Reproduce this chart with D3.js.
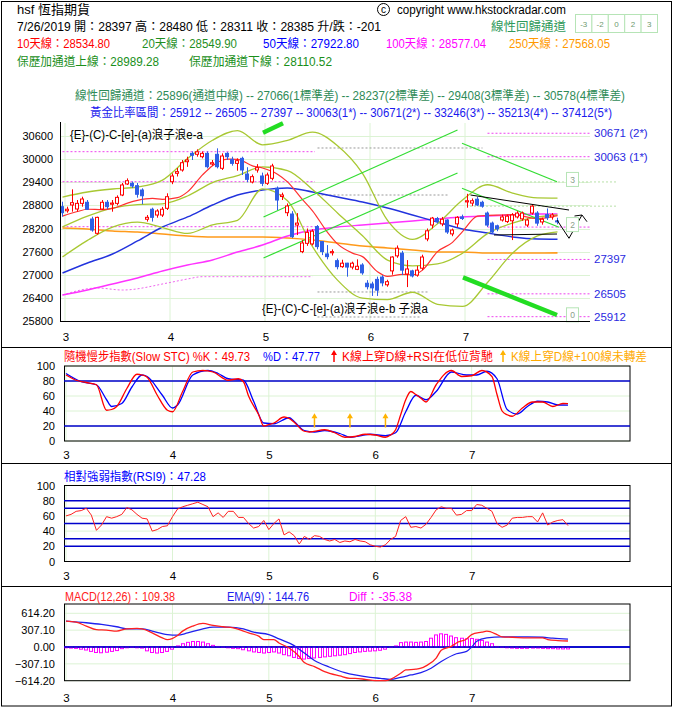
<!DOCTYPE html>
<html><head><meta charset="utf-8"><title>hsf</title>
<script src="https://cdn.jsdelivr.net/npm/d3@7/dist/d3.min.js"></script>
<style>
body{margin:0;background:#fff}
svg{display:block}
text{font-family:"Liberation Sans","Noto Sans CJK TC",sans-serif}
</style></head><body>
<svg id="chart" width="677" height="717"></svg>
<script>
// ================= DATA =================
const monthLabels = ["3","4","5","6","7"];
const monthIdx = [0,21,40,61,80];
const priceTicks = [25800,26400,27000,27600,28200,28800,29400,30000,30600];

const openP = [28766,28660,28810,28706,28852,28880,28446,28075,28706,28880,
28830,28852,29069,29355,29373,29311,29199,28440,28700,28550,
28550,28724,29414,29632,29718,29933,30150,30125,30063,30150,
29873,30125,29762,30150,29995,29890,30020,29614,29407,29718,
29562,29373,29502,29243,29030,28610,28576,28290,27600,27815,
27800,28250,27860,27540,27570,27365,27210,27300,27200,27140,
27253,26780,26760,26880,26940,26740,27100,27490,27560,27020,
27100,26990,27170,27930,28290,28460,28320,28420,28060,28320,
28500,28890,28860,28960,28880,28600,28340,28270,28420,28380,
28400,28500,28450,28290,28600,28600,28370,28560,28500,28397];
const highP = [28895,28766,29216,28939,29025,28939,28506,28506,28939,28939,
28939,29060,29380,29500,29420,29380,29243,28550,28740,28700,
28760,29113,29630,29770,29977,30063,30200,30254,30200,30200,
29977,30280,30150,30180,30063,30020,30063,29790,29600,29870,
29650,29650,29880,29290,29130,28850,28650,28600,27900,28200,
28180,28290,27870,27770,27660,27420,27390,27310,27340,27400,
27300,26860,26820,26950,26990,26870,27480,27760,27620,27380,
27130,27230,27520,28200,28500,28500,28500,28440,28200,28520,
28560,29100,28980,29020,28920,28640,28380,28300,28560,28560,
28600,28650,28640,28460,28820,28650,28480,28720,28600,28480];
const lowP = [28506,28610,28636,28636,28766,28680,28117,28040,28680,28700,
28636,28800,29040,29330,29250,29000,28828,28380,28380,28480,
28500,28680,29350,29550,29675,29800,29977,30063,30020,29760,
29830,29760,29718,29977,29830,29700,29588,29400,29370,29650,
29300,29330,29450,28680,28939,28520,27950,28030,27560,27750,
27760,27660,27510,27400,27500,27140,27180,26950,27140,27120,
27000,26620,26450,26450,26700,26690,27000,27440,26990,26680,
26930,26950,27120,27870,28200,28330,28260,28060,28000,28240,
28420,28740,28780,28780,28740,28240,28060,28130,28380,28340,
27900,28460,28400,28240,28560,28270,28300,28420,28430,28311];
const closeP = [28610,28700,28870,28852,28965,28698,28161,28489,28880,28766,
28860,29008,29329,29440,29303,29088,29050,28490,28490,28654,
28700,29025,29562,29675,29907,29977,30100,30190,30150,29804,
29907,29804,30081,30063,29890,29960,29718,29476,29545,29778,
29373,29588,29822,28939,29069,28784,27988,28340,27824,28100,
28130,27730,27600,27470,27600,27210,27300,27200,27300,27220,
27050,26690,26660,26600,26790,26820,27460,27690,27120,27150,
26970,27120,27460,28140,28470,28380,28440,28110,28160,28490,
28460,28920,28920,28810,28780,28290,28110,28190,28500,28520,
28550,28600,28600,28420,28780,28340,28440,28480,28550,28385];

// sampled indicator lines (index positions + values)
const lineIdx = [0,5,10,15,20,25,30,35,40,45,50,55,60,65,70,75,80,85,90,95,99];
const ma20   = [28240,28520,28730,28820,28840,29043,29392,29574,29799,29702,29214,28604,28013,27381,27232,27280,27559,28067,28341,28500,28550];
const bbUpper= [29017,29147,29225,29277,29456,30013,30490,30738,30371,30486,30698,30348,29631,28409,27918,28326,28939,29335,29120,28994,28989];
const bbLower= [27463,27893,28235,28363,28224,28073,28294,28410,29227,28918,27730,26860,26395,26353,26546,26234,26179,26799,27560,28006,28110];
const ma50   = [27045,27305,27538,27876,28239,28499,28810,29069,29199,29251,29147,29017,28888,28732,28550,28369,28187,28083,27980,27928,27923];
const ma100  = [26475,26604,26760,26916,27097,27253,27383,27590,27772,28005,28161,28239,28291,28343,28395,28447,28498,28524,28550,28576,28577];
const ma250  = [28213,28187,28135,28109,28057,28005,27979,27979,27979,27953,27902,27824,27746,27694,27642,27590,27590,27564,27564,27564,27568];
const ma10Idx = [0,3,5,8,10,13,15,18,20,23,25,28,30,33,35,38,40,43,45,48,50,53,55,58,60,63,65,68,70,72,75,78,80,83,85,88,90,95,99];
const ma10    = [28520,28640,28700,28690,28720,28860,28930,28980,28955,29000,29150,29590,29830,30000,29995,29825,29770,29610,29410,28950,28660,28100,27800,27560,27470,27080,26960,27010,27000,27120,27600,27840,28120,28520,28540,28550,28560,28460,28535];

// level lines
const leftLevels = [30193,29414,28247];
const goldenLevels = [30671,30063,28237,27397,26505,25912];
const goldenLabels = ["30671 (2*)","30063 (1*)","","27397","26505","25912"];
const regLevels = [29408,28780];
const oldLevels = [30289,29069,26553,25904];
const oldLevelEnd = [84,77,73,71.5];
const dotIdx = [0,7,12,21,25,28,50];
const dotVal = [26475,26656,26604,26786,26890,26950,26950];
const regBoxVal = [29408,28237,25896];
const regBoxLab = ["3","2","0"];

// stochastic
const kIdx = [0,2,4,6,8,9,10,12,14,15,16,18,20,21,23,25,27,29,32,34,35,36,38,39,40,41,43,44,45,47,48,51,53,55,57,59,61,63,64,65,66,67,68,69,70,71,73,76,78,80,82,84,85,86,87,88,90,92,94,96,98,99];
const kVal = [88,81,78,75,41,42,46,70,89,88,85,61,41,39,66,92,94,92,81,83,79,60,35,20,22,24,32,30,25,13,12,15,11,5,6,9,8,5,8,15,35,55,66,62,57,52,75,94,86,87,94,86,62,40,35,33,44,52,52,46,50,49.73];
const dIdx = [0,3,6,8,9,11,13,15,16,19,21,22,25,28,30,32,35,37,39,41,44,45,47,49,51,54,56,58,60,63,65,67,69,71,73,76,79,81,83,85,87,89,91,93,95,97,99];
const dVal = [90,79,75,55,46,50,72,88,86,61,44,48,88,94,90,83,81,53,24,23,31,26,14,12,14,10,5,7,9,7,11,39,61,55,66,92,88,88,93,83,42,36,46,53,52,48,47.77];
const stochArrowIdx = [49,56,63];

// RSI(9)
const rsi = [60,62,66,67,70,61,41,48,59,57, 59,62,71,68,62,57,56,40,42,46,
47,59,69,72,74,76,78,75,72,59, 64,58,66,66,58,58,50,44,46,54,
42,50,56,35,39,34,23,33,29,34, 33,29,27,29,25,27,26,29,27,26,
22,20,19,22,29,33,54,59,45,46, 44,49,58,68,72,70,70,61,62,67,
67,75,74,70,66,50,45,48,57,58, 58,59,59,52,64,48,52,54,55,47.28];

// MACD
const macdIdx = [0,2,4,6,8,10,12,14,15,17,19,20,22,23,25,27,29,31,33,35,36,38,39,41,42,44,46,47,49,51,54,56,57,59,61,63,64,66,67,69,70,71,73,74,76,77,79,80,82,83,85,86,88,91,94,95,97,99];
const macdVal = [473,454,381,315,307,289,332,338,332,258,166,135,209,289,381,430,393,369,350,289,258,197,135,135,74,-18,-172,-283,-356,-448,-528,-571,-571,-590,-614,-614,-590,-479,-418,-405,-387,-344,-203,-60,12,74,147,227,270,289,227,184,178,166,166,135,117,109.38];
const emaIdx = [0,4,7,10,12,15,17,20,22,24,27,29,32,35,37,40,42,45,47,49,52,55,57,60,62,64,66,68,70,72,74,77,79,80,81,83,86,88,91,94,96,99];
const emaVal = [473,442,411,369,332,332,289,227,215,258,332,362,362,332,270,227,147,25,-111,-246,-369,-467,-510,-553,-571,-590,-553,-510,-467,-387,-264,-123,-80,0,104,166,184,184,184,178,160,144.76];
const diffVal = [-15,-20,-25,-40,-55,-80,-100,-105,-95,-80,
-65,-30,-15,-10,-15,-20,-70,-100,-110,-100,
-80,-40,20,60,85,100,100,90,60,30,
10,-5,-15,-25,-30,-50,-70,-90,-100,-110,
-100,-90,-110,-140,-160,-190,-210,-220,-210,-200,
-190,-180,-170,-160,-150,-140,-120,-100,-90,-80,
-75,-70,-60,-40,-10,20,80,90,90,85,
90,100,160,220,240,230,200,170,160,150,
155,140,120,90,60,10,-10,-15,-20,-25,
-25,-25,-20,-20,-25,-30,-30,-35,-35,-35.38];
const macdTicks = [-614.2,-307.1,0,307.1,614.2];

// annotation drawings (index, price)
const chanUpA = [[40.2,28499],[79,30756]];
const chanUpB = [[40.2,27435],[79,29640]];
const chanDnC = [[79.9,30411],[98.9,29414]];
const chanDnD = [[79.9,29243],[99.3,28231]];
const thickTop = [[40.1,30686],[44.1,30930]];
const thickBot = [[80.1,26934],[98.9,25956]];
const triTop = [[81.6,29069],[101.3,28680]];
const triBot = [[86.3,28031],[98.9,28057]];
const zigzag = [[98.9,28420],[101.3,27946],[103.9,28550],[104.9,28376]];
const zigHead = [[102.4,28524],[103.9,28550]];

// ================= DRAW =================
const svg = d3.select("#chart");
const g = svg.append("g");
const F = '"Liberation Sans","Noto Sans CJK TC",sans-serif';
function T(x,y,s,fill,size,opt){
  opt = opt||{};
  const t = g.append("text").attr("x",x).attr("y",y).attr("fill",fill).attr("font-size",size).text(s);
  if(opt.anchor) t.attr("text-anchor",opt.anchor);
  if(opt.len) t.attr("textLength",opt.len).attr("lengthAdjust","spacingAndGlyphs");
  return t;
}
const GRID = "#dcf3d4";

// frame
g.append("rect").attr("x",1.5).attr("y",1.5).attr("width",670).attr("height",704.5).attr("fill","none").attr("stroke","#000");
[347.5,463.5,586.5].forEach(yy=>g.append("line").attr("x1",1.5).attr("x2",671.5).attr("y1",yy).attr("y2",yy).attr("stroke","#000"));

// header
T(17,14,"hsf 恆指期貨","#000",13);
g.append("circle").attr("cx",383.5).attr("cy",9.5).attr("r",6).attr("fill","none").attr("stroke","#000");
T(383.5,13,"c","#000",10,{anchor:"middle"});
T(397,14,"copyright www.hkstockradar.com","#000",12,{len:169});
T(17,31,"7/26/2019 開：28397 高：28480 低：28311 收：28385 升/跌：-201","#000",12,{len:364});
T(491,31,"線性回歸通道","#2e9a5a",12.5,{len:75});
["-3","-2","0","2","3"].forEach((s,k)=>{
  g.append("rect").attr("x",575.5+k*16.4).attr("y",14.5).attr("width",16.4).attr("height",18).attr("fill","#fff").attr("stroke","#b6e4b6");
  T(575.5+k*16.4+8.2,27,s,"#6f9a6f",8,{anchor:"middle"});
});
const maHeads = [["10天線：28534.80","#ff0000",17,93],["20天線：28549.90","#1f8f1f",142,95],["50天線：27922.80","#0000ff",263,96],["100天線：28577.04","#ff00ff",386,100],["250天線：27568.05","#ff9900",509,101]];
maHeads.forEach(h=>T(h[2],48,h[0],h[1],12,{len:h[3]}));
T(17,66,"保歷加通道上線：28989.28","#1a8f1a",12,{len:142});
T(189,66,"保歷加通道下線：28110.52","#1a8f1a",12,{len:143});
T(75,100,"線性回歸通道：25896(通道中線) -- 27066(1標準差) -- 28237(2標準差) -- 29408(3標準差) -- 30578(4標準差)","#2e8b57",12,{len:550});
T(90,117,"黃金比率區間：25912 -- 26505 -- 27397 -- 30063(1*) -- 30671(2*) -- 33246(3*) -- 35213(4*) -- 37412(5*)","#1a1aee",12,{len:522});

// ---------- main chart ----------
const xM = d3.scaleLinear().domain([0,99]).range([62.5,557.5]);
const yM = d3.scaleLinear().domain([25800,30600]).range([321,136]);
const mg = g.append("g");
priceTicks.forEach(v=>mg.append("line").attr("x1",60).attr("x2",590).attr("y1",Math.round(yM(v))+0.5).attr("y2",Math.round(yM(v))+0.5).attr("stroke",GRID));
monthIdx.forEach(i=>mg.append("line").attr("x1",xM(i)+2.5).attr("x2",xM(i)+2.5).attr("y1",123).attr("y2",321).attr("stroke",GRID));

const yAx = g.append("g").attr("transform","translate(60,0)").call(d3.axisLeft(yM).tickValues(priceTicks).tickSize(0).tickPadding(7).tickFormat(d3.format("d")));
yAx.select(".domain").remove();
yAx.attr("font-size",11).attr("font-family",F).selectAll("text").attr("fill","#000");
const xAx = g.append("g").attr("transform","translate(3,321)").call(d3.axisBottom(xM).tickValues(monthIdx).tickSize(0).tickPadding(12).tickFormat((d,k)=>monthLabels[k]));
xAx.select(".domain").remove();
xAx.attr("font-size",11.5).attr("font-family",F).selectAll("text").attr("fill","#000");

const P = (pts)=>d3.line().x(d=>xM(d[0])).y(d=>yM(d[1]))(pts);
// dotted levels
leftLevels.forEach(v=>mg.append("line").attr("x1",xM(0)).attr("x2",xM(50.5)).attr("y1",yM(v)).attr("y2",yM(v)).attr("stroke","#ee44ee").attr("stroke-dasharray","2,2"));
oldLevels.forEach((v,k)=>mg.append("line").attr("x1",xM(51)).attr("x2",xM(oldLevelEnd[k])).attr("y1",yM(v)).attr("y2",yM(v)).attr("stroke","#999").attr("stroke-dasharray","2,2"));
regLevels.forEach(v=>mg.append("line").attr("x1",xM(81.5)).attr("x2",xM(111)).attr("y1",yM(v)).attr("y2",yM(v)).attr("stroke","#b8e0a8").attr("stroke-dasharray","2,2"));
goldenLevels.forEach((v,k)=>{
  mg.append("line").attr("x1",xM(85)).attr("x2",590).attr("y1",yM(v)).attr("y2",yM(v)).attr("stroke","#ee44ee").attr("stroke-dasharray","2,2");
  if(goldenLabels[k]) T(594,yM(v)+4,goldenLabels[k],"#2a2adf",11.5);
});
mg.append("path").attr("d",d3.line().x((d,k)=>xM(dotIdx[k])).y(d=>yM(d)).curve(d3.curveMonotoneX)(dotVal)).attr("fill","none").attr("stroke","#ee66ee").attr("stroke-dasharray","2,2");

// indicator lines
function L(idx,vals,color,w){
  mg.append("path").attr("d",d3.line().x((d,k)=>xM(idx[k])).y(d=>yM(d)).curve(d3.curveMonotoneX)(vals))
    .attr("fill","none").attr("stroke",color).attr("stroke-width",w);
}
L(lineIdx,ma250,"#ff9a1a",1.6);
L(lineIdx,ma100,"#ff33ff",1.5);
L(lineIdx,ma50,"#2233dd",1.4);
L(lineIdx,bbUpper,"#a8c832",1.3);
L(lineIdx,bbLower,"#a8c832",1.3);
L(lineIdx,ma20,"#a8c832",1.3);
L(ma10Idx,ma10,"#ff3030",1.2);

// green channel lines
[chanUpA,chanUpB,chanDnC,chanDnD].forEach(p=>mg.append("path").attr("d",P(p)).attr("stroke","#33dd33").attr("stroke-width",1.2).attr("fill","none"));

// candles
const candles = d3.range(closeP.length).map(i=>({i,o:openP[i],h:highP[i],l:lowP[i],c:closeP[i]}));
const up = d=>d.c>=d.o;
const cg = g.append("g");
cg.selectAll("line").data(candles).join("line")
  .attr("x1",d=>xM(d.i)).attr("x2",d=>xM(d.i)).attr("y1",d=>yM(d.h)).attr("y2",d=>yM(d.l))
  .attr("stroke",d=>up(d)?"#ff0000":"#2f5fe6");
cg.selectAll("rect").data(candles).join("rect")
  .attr("x",d=>xM(d.i)-2).attr("width",3)
  .attr("y",d=>yM(Math.max(d.o,d.c)))
  .attr("height",d=>Math.max(1,yM(Math.min(d.o,d.c))-yM(Math.max(d.o,d.c))))
  .attr("fill",d=>up(d)?"#fff":"#2f5fe6").attr("stroke",d=>up(d)?"#ff0000":"#2f5fe6");

// thick green & black drawings
[thickTop,thickBot].forEach(p=>g.append("path").attr("d",P(p)).attr("stroke","#22dd22").attr("stroke-width",4.5).attr("fill","none"));
[triTop,triBot,zigzag,zigHead].forEach(p=>g.append("path").attr("d",P(p)).attr("stroke","#000").attr("stroke-width",1).attr("fill","none"));
regBoxVal.forEach((v,k)=>{
  g.append("rect").attr("x",566.5).attr("y",yM(v)-9.5).attr("width",12).attr("height",14).attr("fill","#fff").attr("stroke","#b6e4b6");
  T(572.5,yM(v)+1,regBoxLab[k],"#8aa08a",8.5,{anchor:"middle"});
});
// main texts
T(70,139,"{E}-(C)-C-[e]-(a)浪子浪e-a","#000",12,{len:133});
T(262,313,"{E}-(C)-C-[e]-(a)浪子浪e-b 子浪a","#000",12,{len:166});
// axes lines
g.append("line").attr("x1",60.5).attr("x2",60.5).attr("y1",122).attr("y2",321.5).attr("stroke","#000");
g.append("line").attr("x1",60).attr("x2",590).attr("y1",321.5).attr("y2",321.5).attr("stroke","#000");

// ---------- sub panels ----------
const xS = d3.scaleLinear().domain([0,99]).range([66,568]);
function panel(yS, top, bottom, ticks, fmt, padB){
  const pg = g.append("g");
  ticks.forEach(v=>pg.append("line").attr("x1",64).attr("x2",630).attr("y1",yS(v)).attr("y2",yS(v)).attr("stroke",GRID));
  monthIdx.forEach(i=>pg.append("line").attr("x1",xS(i)).attr("x2",xS(i)).attr("y1",top).attr("y2",bottom).attr("stroke",GRID));
  pg.append("rect").attr("x",64.5).attr("y",top).attr("width",565.5).attr("height",bottom-top).attr("fill","none").attr("stroke","#000");
  const ya = g.append("g").attr("transform","translate(64,0)").call(d3.axisLeft(yS).tickValues(ticks).tickSize(0).tickPadding(9).tickFormat(fmt));
  ya.select(".domain").remove();
  ya.attr("font-size",11).attr("font-family",F).selectAll("text").attr("fill","#000");
  const xa = g.append("g").attr("transform",`translate(0,${bottom})`).call(d3.axisBottom(xS).tickValues(monthIdx).tickSize(0).tickPadding(padB).tickFormat((d,k)=>monthLabels[k]));
  xa.select(".domain").remove();
  xa.attr("font-size",11.5).attr("font-family",F).selectAll("text").attr("fill","#000");
  return pg;
}
function hl(pg,yS,v,color,w){ pg.append("line").attr("x1",64).attr("x2",630).attr("y1",yS(v)).attr("y2",yS(v)).attr("stroke",color).attr("stroke-width",w); }
const lineS = (yS,idx)=>d3.line().x((d,k)=>xS(idx[k])).y(d=>yS(d));

// stochastic
const yK = d3.scaleLinear().domain([0,100]).range([441,366]);
const sp = panel(yK,366,441,[0,20,40,60,80,100],d3.format("d"),10);
hl(sp,yK,80,"#0000cc",1.4); hl(sp,yK,20,"#0000cc",1.4);
sp.append("path").attr("d",lineS(yK,dIdx).curve(d3.curveMonotoneX)(dVal)).attr("fill","none").attr("stroke","#0000ff").attr("stroke-width",1.3);
sp.append("path").attr("d",lineS(yK,kIdx).curve(d3.curveMonotoneX)(kVal)).attr("fill","none").attr("stroke","#ff0000").attr("stroke-width",1.3);
function arrow(x,y1,y2,color){
  g.append("line").attr("x1",x).attr("x2",x).attr("y1",y1).attr("y2",y2+4).attr("stroke",color).attr("stroke-width",1.5);
  g.append("path").attr("d",`M${x-3},${y2+5}L${x},${y2}L${x+3},${y2+5}Z`).attr("fill",color);
}
stochArrowIdx.forEach(i=>arrow(xS(i),yK(18),yK(37),"#ffb300"));
T(64,361,"隨機慢步指數(Slow STC) %K：49.73","#ff0000",12,{len:186});
T(263,361,"%D：47.77","#0000ff",12,{len:57});
arrow(334,362,350,"#ff0000");
T(342,361,"K線上穿D線+RSI在低位背馳","#ff0000",12,{len:151});
arrow(503,362,350,"#ffb300");
T(511,361,"K線上穿D線+100線未轉差","#ffaa00",12,{len:136});

// RSI
const yR = d3.scaleLinear().domain([0,100]).range([561.5,485.5]);
const rp = panel(yR,485.5,561.5,[0,20,40,60,80,100],d3.format("d"),10.5);
[80,70,50,30,20].forEach(v=>hl(rp,yR,v,"#0000cc",1.4));
rp.append("path").attr("d",d3.line().x((d,i)=>xS(i)).y(d=>yR(d))(rsi)).attr("fill","none").attr("stroke","#ff2020").attr("stroke-width",1);
T(64,481,"相對強弱指數(RSI9)：47.28","#0000ff",12,{len:142});

// MACD
const yMd = d3.scaleLinear().domain([-614.2,614.2]).range([680.7,613.3]);
const mp = panel(yMd,604,680.7,macdTicks,d3.format(".2f"),13.5);
hl(mp,yMd,0,"#0000cc",1.6);
mp.selectAll("rect.d").data(diffVal).join("rect").attr("class","d")
  .attr("x",(d,i)=>Math.round(xS(i))-1.5).attr("width",3)
  .attr("y",d=>Math.min(yMd(d),yMd(0))).attr("height",d=>Math.max(0.5,Math.abs(yMd(d)-yMd(0))))
  .attr("fill","#fff").attr("stroke","#ff00ff").attr("stroke-width",1);
hl(mp,yMd,0,"#0000cc",1.6);
mp.append("path").attr("d",lineS(yMd,emaIdx).curve(d3.curveMonotoneX)(emaVal)).attr("fill","none").attr("stroke","#2020ee").attr("stroke-width",1.3);
mp.append("path").attr("d",lineS(yMd,macdIdx).curve(d3.curveMonotoneX)(macdVal)).attr("fill","none").attr("stroke","#ff2020").attr("stroke-width",1.3);
T(65,601,"MACD(12,26)：109.38","#ff2020",12,{len:110});
T(227,601,"EMA(9)：144.76","#2020ee",12,{len:82});
T(349,601,"Diff：-35.38","#ff00ff",12,{len:63});
</script>
</body></html>
